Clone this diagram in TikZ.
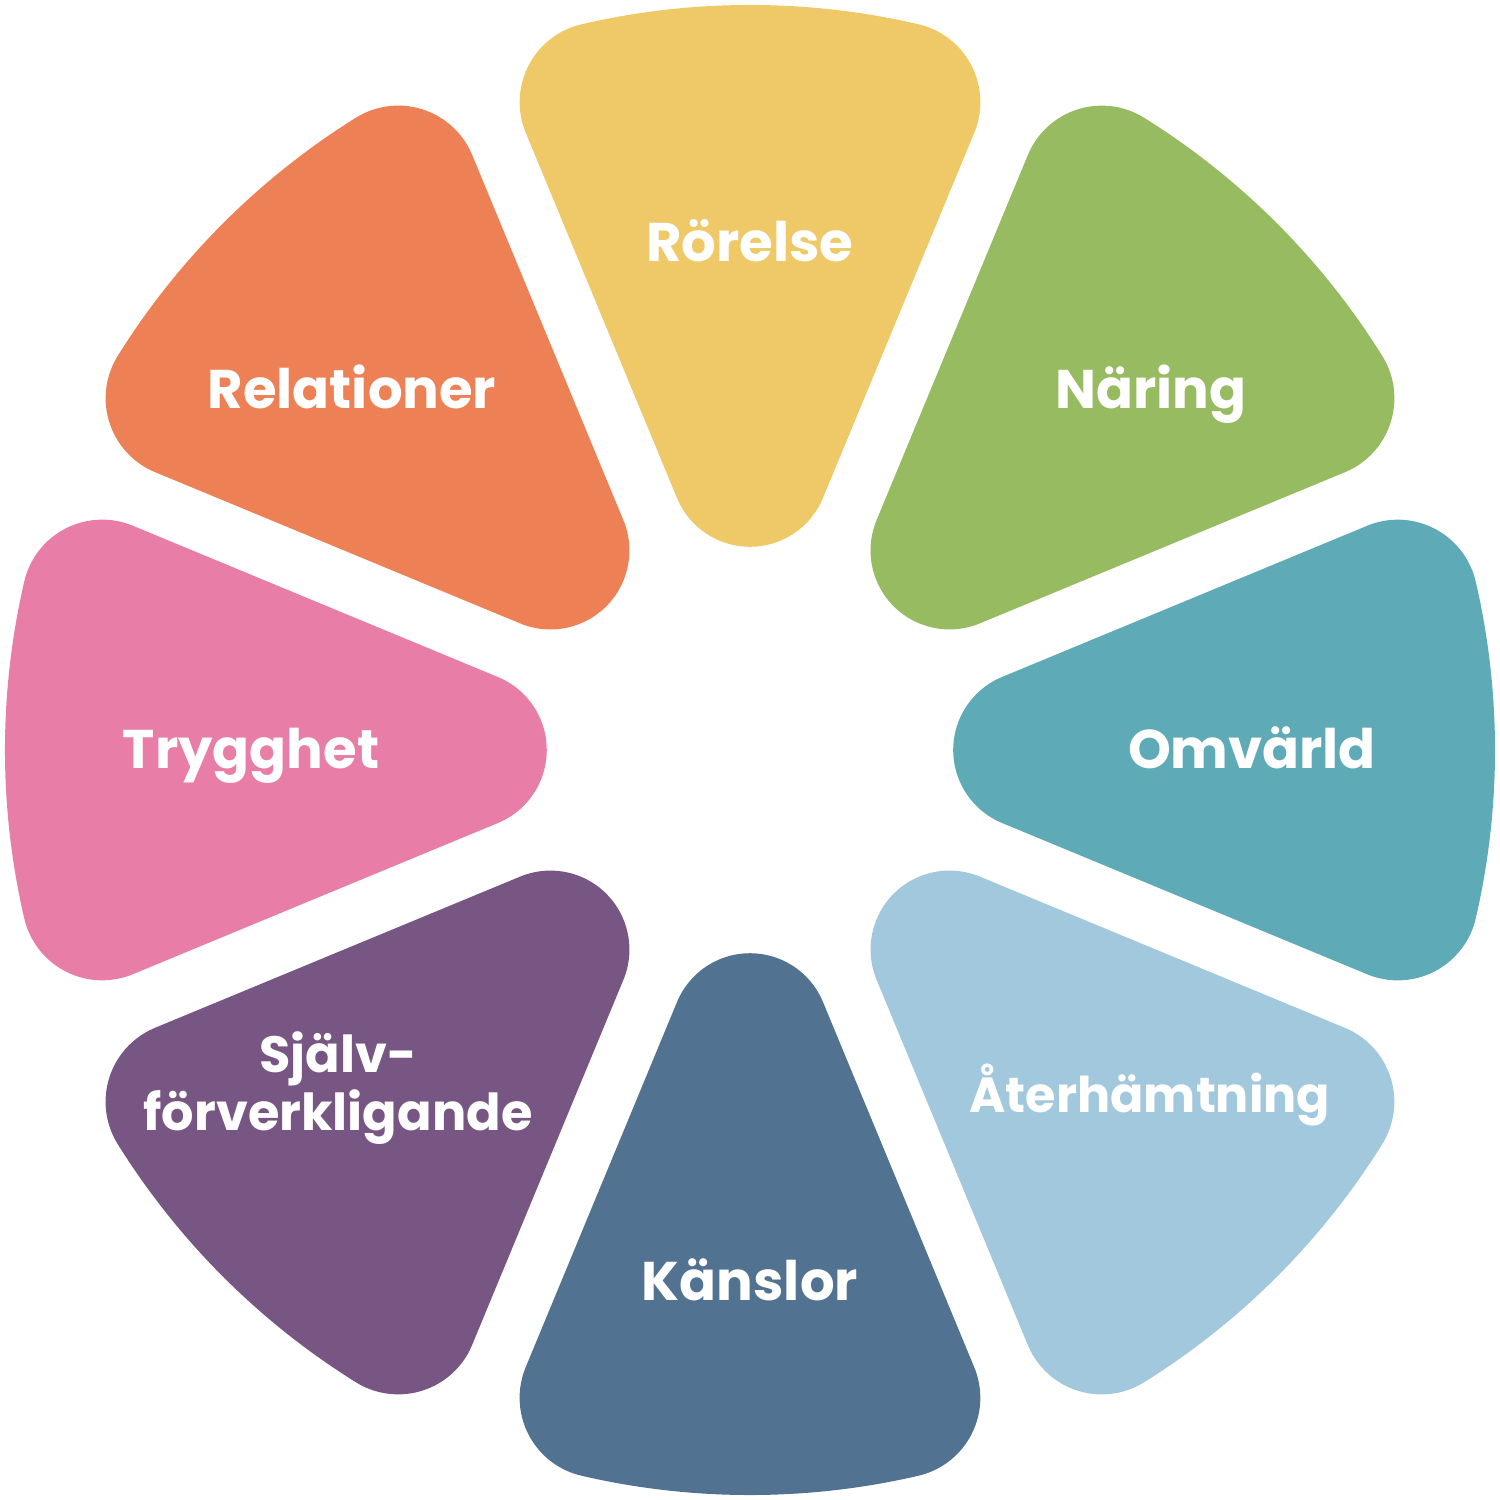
\documentclass[tikz,border=0pt]{standalone}
\usepackage{fontspec}
\setmainfont{Poppins}

\definecolor{rorelse}{HTML}{EFC967}
\definecolor{naring}{HTML}{96BB60}
\definecolor{omvarld}{HTML}{5FAAB7}
\definecolor{aterhamt}{HTML}{A2C8DE}
\definecolor{kanslor}{HTML}{527291}
\definecolor{sjalv}{HTML}{775683}
\definecolor{trygghet}{HTML}{E87EA7}
\definecolor{relation}{HTML}{EE8055}

\begin{document}
\begin{tikzpicture}[
    label/.style={text=white, font=\fontsize{15.5}{15}\selectfont\bfseries, anchor=base, align=center, inner sep=0pt},
    small label/.style={label, font=\fontsize{14}{14.5}\selectfont\bfseries}
  ]
    \useasboundingbox (-7.5,-7.5) rectangle (7.5,7.5);

    % Petals (drawn pointing up, then turned into place)
    \foreach \ang/\col in {90/rorelse, 45/naring, 0/omvarld, -45/aterhamt,
                           -90/kanslor, -135/sjalv, 180/trygghet, 135/relation} {
        \fill[\col, rotate=\ang-90]
            (-0.730,2.520) arc[start angle=202.5, end angle=337.5, radius=0.79]
            -- (2.243,6.172) arc[start angle=-22.5, end angle=76.93, radius=0.8]
            arc[start angle=76.93, end angle=103.07, radius=7.45]
            arc[start angle=103.07, end angle=202.5, radius=0.8]
            -- cycle;
    }

    % Labels
    \node[label] (rorelse)  at (0,4.89)      {Rörelse};
    \node[label] (naring)   at (4.01,3.42)   {Näring};
    \node[label] (omvarld)  at (5.02,-0.18)  {Omvärld};
    \node[small label] (aterhamt) at (4.00,-3.62)  {Återhämtning};
    \node[label] (kanslor)  at (0,-5.50)     {Känslor};
    \node[small label, font=\fontsize{14.5}{14.5}\selectfont\bfseries] (sjalv) at (-4.12,-3.80) {Själv-\\förverkligande};
    \node[label] (trygghet) at (-4.99,-0.18) {Trygghet};
    \node[label] (relation) at (-3.98,3.42)  {Relationer};
\end{tikzpicture}
\end{document}
